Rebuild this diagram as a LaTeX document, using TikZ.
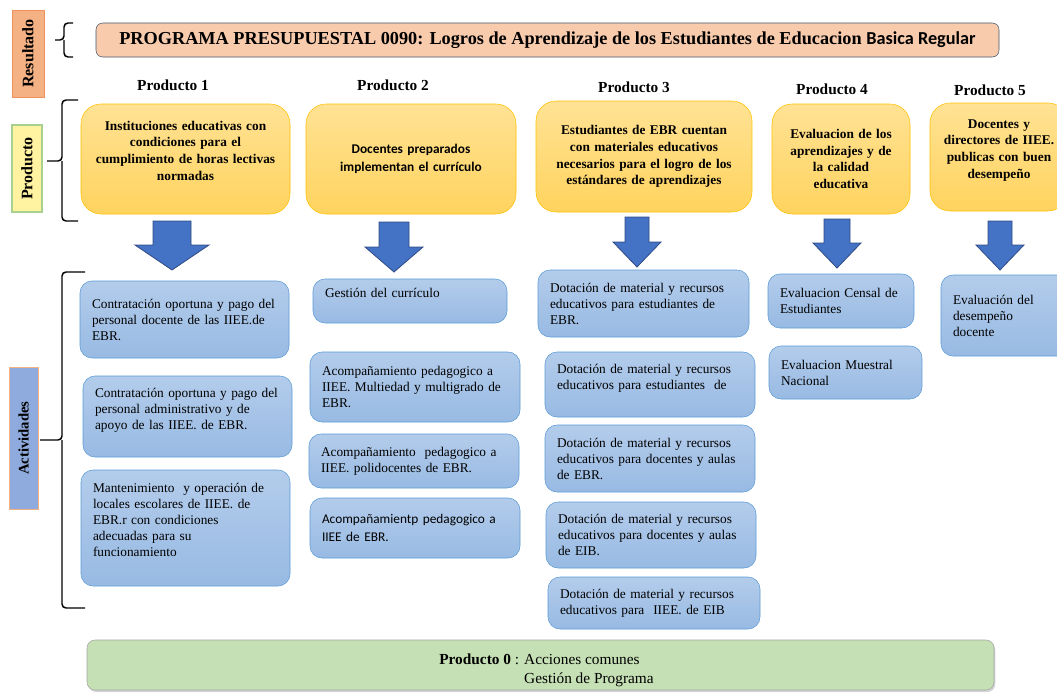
\documentclass[tikz,border=0pt]{standalone}
\usepackage{fontspec}
\setmainfont{Liberation Serif}
\newfontfamily\calibri{Carlito}
\usetikzlibrary{shadows}
\definecolor{resnaranja}{HTML}{F4B183}
\definecolor{naranjaborde}{HTML}{EE915C}
\definecolor{cabecera}{HTML}{F8CBAD}
\definecolor{pizarra}{HTML}{44546A}
\definecolor{amarillo}{HTML}{FFF2A0}
\definecolor{verdeborde}{HTML}{A9D18E}
\definecolor{azullabel}{HTML}{8FAADC}
\definecolor{oroarriba}{HTML}{FFE294}
\definecolor{oroabajo}{HTML}{FFD35E}
\definecolor{oroborde}{HTML}{FFC000}
\definecolor{azularriba}{HTML}{B3CCEB}
\definecolor{azulabajo}{HTML}{98BAE3}
\definecolor{azulborde}{HTML}{5B9BD5}
\definecolor{flechaazul}{HTML}{4472C4}
\definecolor{flechaborde}{HTML}{2F4B85}
\definecolor{verdefondo}{HTML}{C5E0B4}
\definecolor{grisborde}{HTML}{A5A5A5}
\tikzset{
  every picture/.style={x=0.75pt, y=-0.75pt, font=\fontsize{10}{12}\selectfont}}

\begin{document}
\begin{tikzpicture}
    \tikzstyle{etiqueta}=[draw, rotate=90, inner sep=0pt, font=\fontsize{12}{14}\selectfont\bfseries]
    \tikzstyle{titulo}=[inner sep=0pt, font=\fontsize{11.5}{14}\selectfont\bfseries]
    \tikzstyle{producto}=[draw=oroborde, rounded corners=15pt, top color=oroarriba, bottom color=oroabajo,
      align=center, inner sep=0pt, font=\fontsize{10}{12.5}\selectfont\bfseries]
    \tikzstyle{actividad}=[draw=azulborde, rounded corners=9pt, top color=azularriba, bottom color=azulabajo,
      align=left, inner xsep=9pt, inner ysep=0pt]
    \tikzstyle{llave}=[line width=1.1pt, rounded corners=3pt]
    \tikzstyle{bajada}=[fill=flechaazul, draw=flechaborde, line width=0.6pt]

    \useasboundingbox (0,0) rectangle (1057,693);

    % etiquetas de la izquierda
    \node[etiqueta, fill=resnaranja, draw=naranjaborde, minimum width=65.25pt, minimum height=24pt]
      (resultado) at (28,53.5) {Resultado};
    \node[etiqueta, fill=amarillo, draw=verdeborde, line width=0.9pt, minimum width=65.25pt, minimum height=22.5pt]
      (lblproducto) at (27,168.5) {Producto};
    \node[etiqueta, fill=azullabel, draw=resnaranja, minimum width=106.5pt, minimum height=21.75pt,
      font=\fontsize{11}{13}\selectfont\bfseries] (lblactividades) at (23.5,438) {Actividades};

    \begin{scope}
      \draw[llave] (73,23) -- (64,23) -- (64,40) -- (55,40);
      \draw[llave] (73,57) -- (64,57) -- (64,40);
      \draw[llave] (78,100) -- (62,100) -- (62,161) -- (47,161);
      \draw[llave] (78,221) -- (62,221) -- (62,161);
      \draw[llave] (85,272) -- (62,272) -- (62,440) -- (40,440);
      \draw[llave] (85,608) -- (62,608) -- (62,440);
    \end{scope}

    % resultado
    \node[draw=pizarra, fill=cabecera, rounded corners=5pt, minimum width=677.25pt, minimum height=25.5pt,
      font=\fontsize{13.7}{15}\selectfont\bfseries] (programa) at (547.5,40)
      {PROGRAMA PRESUPUESTAL 0090: Logros de Aprendizaje de los Estudiantes de Educacion {\calibri\bfseries Basica Regular}};

    % productos
    \node[titulo] (t1) at (173,85) {Producto 1};
    \node[titulo] (t2) at (393,85) {Producto 2};
    \node[titulo] (t3) at (634,87) {Producto 3};
    \node[titulo] (t4) at (832,89) {Producto 4};
    \node[titulo] (t5) at (990,90) {Producto 5};

    \node[producto, minimum width=156.75pt, minimum height=82.5pt, text width=150pt] (p1) at (185.5,159)
      {Instituciones educativas con\\ condiciones para el\\ cumplimiento de horas lectivas\\ normadas\\ \mbox{}};
    \node[producto, minimum width=157.5pt, minimum height=82.5pt, text width=150pt,
      font=\fontsize{10}{13}\calibri\bfseries] (p2) at (411,159)
      {Docentes preparados\\ implementan el currículo};
    \node[producto, minimum width=162pt, minimum height=83.25pt, text width=155pt] (p3) at (644,156.5)
      {Estudiantes de EBR cuentan\\ con materiales educativos\\ necesarios para el logro de los\\ estándares de aprendizajes};
    \node[producto, minimum width=103.5pt, minimum height=82.5pt, text width=98pt] (p4) at (841,159)
      {Evaluacion de los\\ aprendizajes y de\\ la calidad\\ educativa};
    \node[producto, minimum width=103.5pt, minimum height=81pt, text width=98pt] (p5) at (999,157)
      {Docentes y\\ directores de IIEE.\\ publicas con buen\\ desempeño\\ \mbox{}};

    % flechas hacia las actividades
    \draw[bajada] (153,221) -- (191,221) -- (191,245) -- (209,245) -- (172,270) -- (135,245) -- (153,245) -- cycle;
    \draw[bajada] (379,222) -- (409,222) -- (409,247) -- (423,247) -- (394,272) -- (365,247) -- (379,247) -- cycle;
    \draw[bajada] (625,217) -- (649,217) -- (649,242) -- (661,242) -- (637,267) -- (613,242) -- (625,242) -- cycle;
    \draw[bajada] (824,219) -- (850,219) -- (850,243) -- (861,243) -- (837,268) -- (813,243) -- (824,243) -- cycle;
    \draw[bajada] (988,221) -- (1012,221) -- (1012,245) -- (1024,245) -- (1000,270) -- (976,245) -- (988,245) -- cycle;

    % actividades
    \begin{scope}
      \node[actividad, minimum width=156.75pt, minimum height=57.75pt, text width=138.75pt] (b11) at (184.5,319.5)
        {Contratación oportuna y pago del\\ personal docente de las IIEE.de\\ EBR.};
      \node[actividad, minimum width=156.75pt, minimum height=60.75pt, text width=138.75pt] (b12) at (187.5,416.5)
        {Contratación oportuna y pago del\\ personal administrativo y de\\ apoyo de las IIEE. de EBR.\\ \mbox{}};
      \node[actividad, minimum width=156.75pt, minimum height=87pt, text width=138.75pt] (b13) at (185.5,528)
        {Mantenimiento\ \ y operación de\\ locales escolares de IIEE. de\\ EBR.r con condiciones\\ adecuadas para su\\ funcionamiento\\ \mbox{}};
    \end{scope}

    \begin{scope}
      \node[actividad, minimum width=145.5pt, minimum height=33pt, text width=127.5pt] (b21) at (410,301)
        {Gestión del currículo\\ \mbox{}};
      \node[actividad, minimum width=157.5pt, minimum height=52.5pt, text width=139.5pt] (b22) at (415,387)
        {Acompañamiento pedagogico a\\ IIEE. Multiedad y multigrado de\\ EBR.};
      \node[actividad, minimum width=157.5pt, minimum height=40.5pt, text width=139.5pt] (b23) at (414,461)
        {Acompañamiento\ \ pedagogico a\\ IIEE. polidocentes de EBR.};
      \node[actividad, minimum width=157.5pt, minimum height=45pt, text width=139.5pt,
        font=\fontsize{10}{13.5}\calibri] (b24) at (415,528)
        {Acompañamientp pedagogico a\\ IIEE de EBR.};
    \end{scope}

    \begin{scope}
      \node[actividad, minimum width=158.25pt, minimum height=50.25pt, text width=140.25pt] (b31) at (643.5,303.5)
        {Dotación de material y recursos\\ educativos para estudiantes de\\ EBR.};
      \node[actividad, minimum width=157.5pt, minimum height=48.75pt, text width=139.5pt] (b32) at (650,384.5)
        {Dotación de material y recursos\\ educativos para estudiantes\ \ de\\ \mbox{}};
      \node[actividad, minimum width=157.5pt, minimum height=50.25pt, text width=139.5pt] (b33) at (650,458.5)
        {Dotación de material y recursos\\ educativos para docentes y aulas\\ de EBR.};
      \node[actividad, minimum width=157.5pt, minimum height=49.5pt, text width=139.5pt] (b34) at (651,535)
        {Dotación de material y recursos\\ educativos para docentes y aulas\\ de EIB.};
      \node[actividad, minimum width=159pt, minimum height=39pt, text width=141pt] (b35) at (654,603)
        {Dotación de material y recursos\\ educativos para\ \ IIEE. de EIB};
    \end{scope}

    \node[actividad, minimum width=109.5pt, minimum height=40.5pt, text width=91.5pt] (b41) at (841,301)
      {Evaluacion Censal de\\ Estudiantes};
    \node[actividad, minimum width=114.75pt, minimum height=39.75pt, text width=96.75pt] (b42) at (845.5,372.5)
      {Evaluacion Muestral\\ Nacional};
    \node[actividad, minimum width=100.5pt, minimum height=60.75pt, text width=82.5pt] (b51) at (1008,315.5)
      {Evaluación del\\ desempeño\\ docente};

    % producto 0
    \node[draw=grisborde, fill=verdefondo, rounded corners=6pt, minimum width=680.25pt, minimum height=37.5pt,
      drop shadow={opacity=0.35, shadow xshift=1pt, shadow yshift=-1.5pt}] (p0) at (540.5,665) {};
    \node[align=left, inner sep=0pt, font=\fontsize{11.5}{14.25}\selectfont] (acciones) at ([xshift=4.5pt, yshift=-4pt]p0.center)
      {\textbf{Producto 0} : Acciones comunes\\ \hphantom{\textbf{Producto 0} : }Gestión de Programa};
\end{tikzpicture}
\end{document}
